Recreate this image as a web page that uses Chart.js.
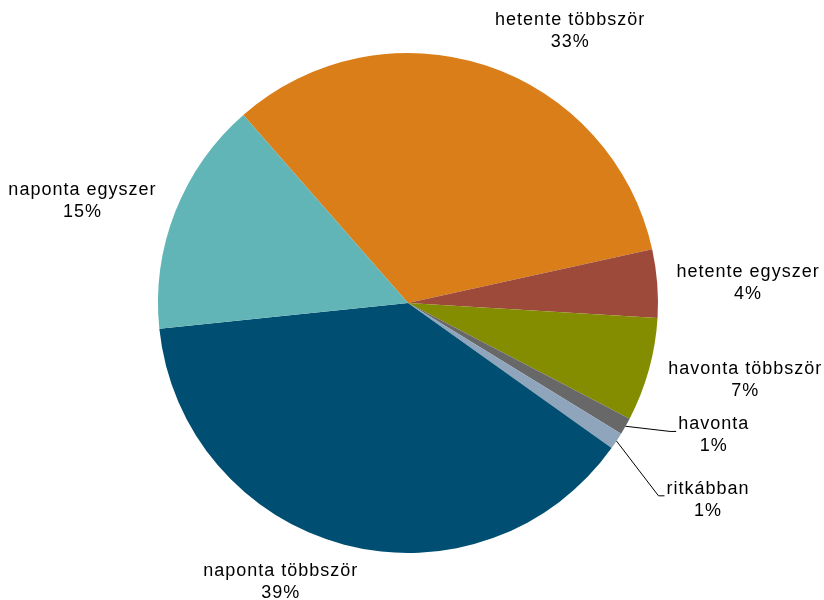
<!DOCTYPE html>
<html>
<head>
<meta charset="utf-8">
<script src="https://cdn.jsdelivr.net/npm/chart.js@4"></script>
<style>
  html, body { margin: 0; padding: 0; background: #ffffff; }
  #wrap { width: 824px; height: 600px; }
</style>
</head>
<body>
<div id="wrap"><canvas id="chart" width="824" height="600"></canvas></div>
<script>
const CATEGORIES = [
  "hetente többször",
  "hetente egyszer",
  "havonta többször",
  "havonta",
  "ritkábban",
  "naponta többször",
  "naponta egyszer"
];
const SHARES = [33.0, 4.4, 6.7, 1.1, 1.1, 38.5, 15.2];

const COLORS = ["#DA7E1A", "#9D4A3B", "#848D00", "#686868", "#8EA5BC", "#004F72", "#62B5B6"];

// label placement: shift from a point just outside the slice middle
const LABEL_SHIFT = [[70, 8], [46, 3], [53, -2], [49, -13], [54, 34], [-52, -6], [-51, 6]];
const HAS_LEADER = [false, false, false, true, true, false, false];

const outsideLabels = {
  id: "outsideLabels",
  afterDatasetsDraw(chart) {
    const ctx = chart.ctx;
    const meta = chart.getDatasetMeta(0);
    ctx.save();
    ctx.font = "18px 'Liberation Sans', Arial, sans-serif";
    ctx.letterSpacing = "1px";
    ctx.fillStyle = "#000000";
    ctx.textAlign = "center";
    ctx.textBaseline = "middle";
    meta.data.forEach((arc, i) => {
      const p = arc.getProps(["x", "y", "startAngle", "endAngle", "outerRadius"], true);
      const mid = (p.startAngle + p.endAngle) / 2;
      const r = p.outerRadius + 45;
      const cx = p.x + Math.cos(mid) * r + LABEL_SHIFT[i][0];
      const cy = p.y + Math.sin(mid) * r + LABEL_SHIFT[i][1];
      const name = CATEGORIES[i];
      const pct = Math.round(SHARES[i]) + "%";
      ctx.fillText(name, cx, cy - 11);
      ctx.fillText(pct, cx, cy + 11);

      if (HAS_LEADER[i]) {
        const left = cx - ctx.measureText(name).width / 2;
        const ex = p.x + Math.cos(mid) * p.outerRadius;
        const ey = p.y + Math.sin(mid) * p.outerRadius;
        const ly = cy - 4;
        ctx.beginPath();
        ctx.strokeStyle = "#000000";
        ctx.lineWidth = 1;
        ctx.moveTo(ex, ey);
        ctx.lineTo(left - 8, ly);
        ctx.lineTo(left - 2, ly);
        ctx.stroke();
      }
    });
    ctx.restore();
  }
};

new Chart(document.getElementById("chart"), {
  type: "pie",
  data: {
    labels: CATEGORIES,
    datasets: [{
      data: SHARES,
      backgroundColor: COLORS,
      borderWidth: 0
    }]
  },
  options: {
    responsive: false,
    animation: false,
    rotation: 318.8,
    layout: { padding: { left: 158, right: 166, top: 53, bottom: 47 } },
    plugins: {
      legend: { display: false },
      tooltip: { enabled: false }
    }
  },
  plugins: [outsideLabels]
});
</script>
</body>
</html>
